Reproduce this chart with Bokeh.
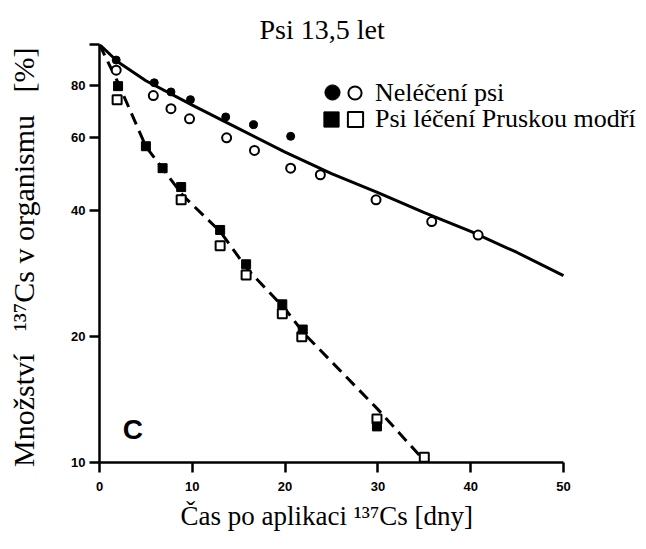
from bokeh.plotting import figure
from bokeh.models import Range1d, Legend, LegendItem, Label, FixedTicker, Title
from bokeh.embed import file_html
from bokeh.resources import INLINE

# ---------------- data ----------------
title_text = "Psi 13,5 let"
x_label = "Čas po aplikaci ¹³⁷Cs [dny]"
y_label = "Množství\u00a0\u00a0\u00a0¹³⁷Cs v organismu\u00a0\u00a0\u00a0[%]\u00a0"
legend_untreated = "Neléčení psi"
legend_treated = "Psi léčení Pruskou modří"
panel_letter = "C"

x_ticks = [0, 10, 20, 30, 40, 50]
y_ticks = [10, 20, 40, 60, 80, 100]
y_tick_labels = ["10", "20", "40", "60", "80", ""]

# untreated dogs (filled / open circles)
untreated_filled_day = [1.8, 5.9, 7.7, 9.8, 13.6, 16.6, 20.6]
untreated_filled_pct = [91.8, 81.0, 77.0, 73.8, 67.1, 64.3, 60.3]
untreated_open_day = [1.8, 5.8, 7.7, 9.7, 13.7, 16.7, 20.6, 23.8, 29.8, 35.8, 40.8]
untreated_open_pct = [86.8, 75.5, 70.2, 66.4, 59.8, 55.8, 50.6, 48.8, 42.5, 37.7, 35.0]

# treated dogs (filled / open squares)
treated_filled_day = [2.0, 5.0, 6.8, 8.8, 13.0, 15.8, 19.7, 21.9, 29.9]
treated_filled_pct = [79.5, 57.1, 50.6, 45.6, 36.0, 29.8, 23.9, 20.8, 12.2]
treated_open_day = [1.9, 8.8, 13.0, 15.8, 19.7, 21.8, 29.9, 35.0]
treated_open_pct = [73.8, 42.5, 33.0, 28.1, 22.7, 20.0, 12.7, 10.3]

# fitted curves
untreated_fit_day = [0, 2, 5, 10, 15, 20, 25, 30, 35, 40, 45, 50]
untreated_fit_pct = [100, 90.8, 81.9, 71.6, 62.9, 55.3, 49.1, 44.2, 39.6, 35.7, 31.8, 28.0]
treated_fit_day = [0, 2, 5, 9, 13, 16, 20, 22, 30, 35]
treated_fit_pct = [100, 81.0, 57.0, 43.5, 35.7, 28.9, 23.3, 20.4, 13.4, 10.1]

# ---------------- figure ----------------
W, H = 644, 547
p = figure(width=W, height=H, x_range=Range1d(0, 58.73), y_range=Range1d(10, 100),
           y_axis_type="log", output_backend="svg", toolbar_location=None,
           min_border_left=99, min_border_right=0, min_border_top=44, min_border_bottom=H - 462)
p.outline_line_color = None
p.grid.visible = False
p.background_fill_color = "white"
p.border_fill_color = "white"

p.title.text = title_text
p.title.align = "left"
p.title.offset = 160
p.title.text_font = "Liberation Serif"
p.title.text_font_size = "28px"
p.title.text_font_style = "normal"
p.title.text_color = "black"
p.title.standoff = 0

for ax in (p.xaxis[0], p.yaxis[0]):
    ax.axis_line_width = 2.5
    ax.axis_line_color = "black"
    ax.major_tick_line_width = 2.5
    ax.major_tick_line_color = "black"
    ax.major_tick_out = 10
    ax.major_tick_in = 0
    ax.minor_tick_out = 0
    ax.minor_tick_in = 0
    ax.minor_tick_line_color = None
    ax.major_label_text_font = "Liberation Sans"
    ax.major_label_text_font_style = "bold"
    ax.major_label_text_font_size = "13px"
    ax.major_label_text_color = "black"
    ax.axis_label_text_font = "Liberation Serif"
    ax.axis_label_text_font_style = "normal"
    ax.axis_label_text_color = "black"

p.xaxis.bounds = (0, 50)
p.xaxis.ticker = FixedTicker(ticks=x_ticks, minor_ticks=[])
p.yaxis.ticker = FixedTicker(ticks=y_ticks, minor_ticks=[])
p.xaxis.major_label_overrides = {t: str(t) for t in x_ticks}
p.yaxis.major_label_overrides = dict(zip(y_ticks, y_tick_labels))
p.xaxis.major_label_standoff = 9
p.yaxis.major_label_standoff = 4
p.yaxis.axis_label = y_label
p.yaxis.axis_label_text_font_size = "30px"
p.yaxis.axis_label_standoff = 28

# x-axis title as a bottom title, placed under the 0..50 axis
xt = Title(text=x_label, align="left", offset=81, text_font="Liberation Serif",
           text_font_size="27px", text_font_style="normal", text_color="black", standoff=11)
p.add_layout(xt, "below")

# lines
p.line(untreated_fit_day, untreated_fit_pct, line_width=3, line_color="black")
p.line(treated_fit_day, treated_fit_pct, line_width=3, line_color="black", line_dash="12 7")

# markers
r_oc = p.scatter(untreated_open_day, untreated_open_pct, marker="circle", size=9,
                 fill_color="white", line_color="black", line_width=2)
r_fc = p.scatter(untreated_filled_day, untreated_filled_pct, marker="circle", size=8,
                 fill_color="black", line_color="black")
r_os = p.scatter(treated_open_day, treated_open_pct, marker="square", size=9,
                 fill_color="white", line_color="black", line_width=2)
r_fs = p.scatter(treated_filled_day, treated_filled_pct, marker="square", size=9,
                 fill_color="black", line_color="black")


def add_legend(renderer, label, g, loc, standoff):
    leg = Legend(items=[LegendItem(label=label, renderers=[renderer])], location=loc,
                 glyph_width=g, glyph_height=g, label_height=g, label_width=0,
                 label_standoff=standoff, padding=0, margin=0, spacing=0,
                 border_line_color=None, background_fill_alpha=0,
                 label_text_font="Liberation Serif", label_text_font_size="26px",
                 label_text_color="black")
    p.add_layout(leg)


add_legend(r_fc, " ", 38, (214, 351), 0)
add_legend(r_oc, legend_untreated, 33, (239, 353), 4)
add_legend(r_fs, " ", 38, (213, 324), 0)
add_legend(r_os, legend_treated, 38, (237, 324), 1)

p.add_layout(Label(x=2.5, y=12.0, text=panel_letter, text_font="Liberation Sans",
                   text_font_style="bold", text_font_size="28px", text_baseline="alphabetic",
                   text_color="black"))

open("out.html", "w").write(file_html(p, INLINE))
